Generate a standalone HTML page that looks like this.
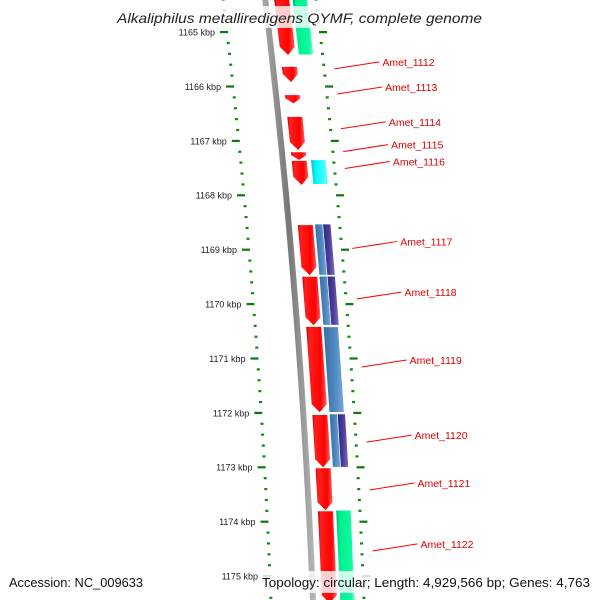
<!DOCTYPE html>
<html><head><meta charset="utf-8"><style>
html,body{margin:0;padding:0;background:#fff}
svg{display:block}
text{font-family:"Liberation Sans","DejaVu Sans",sans-serif}
</style></head><body>
<svg id="c" width="600" height="600" viewBox="0 0 600 600">
<defs>
<linearGradient id="gRed" x1="0" x2="1"><stop offset="0" stop-color="#c00000"/><stop offset="0.15" stop-color="#ff2020"/><stop offset="0.7" stop-color="#ff0000"/><stop offset="1" stop-color="#ff6060"/></linearGradient>
<linearGradient id="gGreen" x1="0" x2="1"><stop offset="0" stop-color="#00b070"/><stop offset="0.2" stop-color="#00f090"/><stop offset="0.8" stop-color="#10f8a0"/><stop offset="1" stop-color="#90ffd0"/></linearGradient>
<linearGradient id="gCyan" x1="0" x2="1"><stop offset="0" stop-color="#00c0c8"/><stop offset="0.3" stop-color="#00f8ff"/><stop offset="1" stop-color="#60ffff"/></linearGradient>
<linearGradient id="gBlue" x1="0" x2="1"><stop offset="0" stop-color="#3a6ea0"/><stop offset="0.5" stop-color="#4a86be"/><stop offset="1" stop-color="#7aa8d8"/></linearGradient>
<linearGradient id="gPurple" x1="0" x2="1"><stop offset="0" stop-color="#302878"/><stop offset="0.5" stop-color="#4a3a98"/><stop offset="1" stop-color="#7a70c0"/></linearGradient>
<linearGradient id="gGray" x1="0" x2="1"><stop offset="0" stop-color="#aaa"/><stop offset="0.5" stop-color="#777"/><stop offset="1" stop-color="#bbb"/></linearGradient>
</defs>
<g id="layer"></g>
</svg>
<script>
// data (kbp)
const majorTicks = [1165,1166,1167,1168,1169,1170,1171,1172,1173,1174,1175];
const redStarts = [1164.40,1165.64,1166.16,1166.56,1167.21,1167.37,1168.55,1169.50,1170.42,1172.04,1173.02,1173.81];
const redEnds   = [1165.42,1165.92,1166.31,1167.17,1167.35,1167.81,1169.47,1170.39,1171.99,1173.00,1173.79,1175.50];
const rStarts = [1164.40,1167.35,1168.53,1168.53,1169.49,1169.49,1170.42,1172.02,1172.02,1173.79];
const rEnds   = [1165.42,1167.80,1169.47,1169.47,1170.39,1170.39,1171.99,1173.00,1173.00,1175.50];
const rKinds  = ["green","cyan","blue","purple","blue","purple","blueWide","blue","purple","green"];
const labels = ["Amet_1112","Amet_1113","Amet_1114","Amet_1115","Amet_1116","Amet_1117","Amet_1118","Amet_1119","Amet_1120","Amet_1121","Amet_1122"];
const labelKbp = [1165.55,1166.01,1166.65,1167.07,1167.38,1168.85,1169.78,1171.03,1172.41,1173.29,1174.41];

const NS='http://www.w3.org/2000/svg';
const layer=document.getElementById('layer');
function Y(k){return 32+(k-1165)*54.4;}
function base(y){const t=y-32;return 226+0.1155*t-0.0000671*t*t;}
function mk(tag,attrs){const e=document.createElementNS(NS,tag);for(const a in attrs)e.setAttribute(a,attrs[a]);layer.appendChild(e);return e;}

// backbone
{const pts=[];for(let y=-5;y<=605;y+=10)pts.push([base(y)+43,y]);
const l=pts.map(p=>(p[0]-3)+','+p[1]).join(' ');const r=pts.slice().reverse().map(p=>(p[0]+3)+','+p[1]).join(' ');
const e=mk('polygon',{points:l+' '+r,fill:'url(#gGray)'});

}

// ticks
for(let i=-3;i<=53;i++){
  const kk=Math.round((1165+i*0.2)*10)/10;const y=Y(kk);const isMaj=Math.abs(kk-Math.round(kk))<0.01;
  const bl=base(y), br=base(y)+93;
  if(isMaj){
    const a=mk('rect',{x:bl-6,y:y-1,width:8,height:2.2,fill:'#0a7a0a'});
    
    
    const b=mk('rect',{x:br,y:y-1,width:8,height:2.2,fill:'#0a7a0a'});
    
    
  }else{
    const a=mk('rect',{x:bl-0.5,y:y-1,width:3,height:2.2,fill:'#0a8a0a'});
    
    
    const b=mk('rect',{x:br-0.5,y:y-1,width:3,height:2.2,fill:'#0a8a0a'});
    
    
  }
}
majorTicks.forEach(k=>{const y=Y(k);
  const t=mk('text',{x:base(y)-11,y:y+3.5,'font-size':9,'text-anchor':'end',fill:'#222'});
  t.textContent=k+' kbp';
  
  });

// red forward genes (arrows)
redStarts.forEach((s,i)=>{const y0=Y(s),y1=Y(redEnds[i]);const len=y1-y0;const tip=Math.min(8,len*0.6);
  const O=52,W=15;
  const L0=base(y0)+O,L1=base(y1)+O;const yb=y1-tip;const Lb=base(yb)+O;
  const pts=[[L0,y0],[L0+W,y0],[Lb+W,yb],[L1+W/2,y1],[Lb,yb]];
  const e=mk('polygon',{points:pts.map(p=>p.join(',')).join(' '),fill:'url(#gRed)'});
  
  });

// right track features
rStarts.forEach((s,i)=>{const y0=Y(s),y1=Y(rEnds[i]);const kind=rKinds[i];
  let off=70,w=15,fill='url(#gGreen)';
  if(kind==='cyan'){off=71;w=15;fill='url(#gCyan)';}
  if(kind==='blue'){off=69;w=8;fill='url(#gBlue)';}
  if(kind==='purple'){off=77;w=8;fill='url(#gPurple)';}
  if(kind==='blueWide'){off=69;w=15;fill='url(#gBlue)';}
  const a=base(y0)+off,b=base(y1)+off;
  const e=mk('polygon',{points:`${a},${y0} ${a+w},${y0} ${b+w},${y1} ${b},${y1}`,fill:fill,stroke:'#fff','stroke-width':0.6});
  
  });

// labels
labels.forEach((lab,i)=>{const y=Y(labelKbp[i]);const x0=base(y)+105;const lx=x0+48;
  const l=mk('line',{x1:x0,y1:y+7,x2:lx-3,y2:y,stroke:'#f00','stroke-width':1});
  
  
  const t=mk('text',{x:lx,y:y+4,'font-size':10.5,fill:'#e00000'});
  t.textContent=lab;
  
  });

// title & footer
function bg(x,y,w,h,name){const r=mk('rect',{x:x,y:y,width:w,height:h,fill:'#fff','fill-opacity':0.8});
  
  }
bg(112,6,376,22,'title-background');
const ti=mk('text',{x:117,y:23,'font-size':14,'font-style':'italic',fill:'#222',textLength:365,lengthAdjust:'spacingAndGlyphs'});
ti.textContent='Alkaliphilus metalliredigens QYMF, complete genome';


bg(258,571,336,22,'footer-background');
const f1=mk('text',{x:9,y:587,'font-size':12.5,fill:'#111',textLength:134,lengthAdjust:'spacingAndGlyphs'});
f1.textContent='Accession: NC_009633';


const f2=mk('text',{x:262,y:587,'font-size':12.5,fill:'#111',textLength:328,lengthAdjust:'spacingAndGlyphs'});
f2.textContent='Topology: circular; Length: 4,929,566 bp; Genes: 4,763';


</script>
</body></html>
